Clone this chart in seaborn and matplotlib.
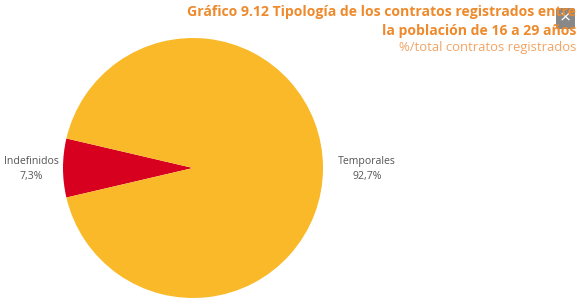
import matplotlib
matplotlib.use("Agg")
import matplotlib.pyplot as plt
import seaborn as sns
from matplotlib.patches import FancyBboxPatch

categories = ["Indefinidos", "Temporales"]
values = [7.3, 92.7]
value_labels = ["7,3%", "92,7%"]
colors = ["#D7001E", "#F9B928"]

sns.set_theme(style="white")
plt.rcParams["font.family"] = ["Open Sans", "DejaVu Sans"]

fig = plt.figure(figsize=(5.79, 2.99), dpi=100)
fig.patch.set_facecolor("white")

cx, cy, r = 193, 168, 130
W, H = 579, 299
ax = fig.add_axes([(cx - r) / W, (H - cy - r) / H, 2 * r / W, 2 * r / H])
start = 180 - values[0] / 100 * 360 / 2
ax.pie(values, colors=colors, startangle=start, counterclock=True,
       wedgeprops=dict(linewidth=0), radius=1)
ax.set_xlim(-1, 1)
ax.set_ylim(-1, 1)
ax.axis("off")

grey = "#555555"
fig.text(31 / W, 1 - 169 / H, categories[0] + "\n" + value_labels[0], ha="center", va="center",
         fontsize=7.6, color=grey, linespacing=1.45)
fig.text(367 / W, 1 - 169 / H, categories[1] + "\n" + value_labels[1], ha="center", va="center",
         fontsize=7.6, color=grey, linespacing=1.45)

orange = "#EE8A2C"
fig.text(576 / W, 1 - 12 / H, "Gráfico 9.12 Tipología de los contratos registrados entre",
         ha="right", va="center", fontsize=10.1, fontweight="bold", color=orange)
fig.text(576 / W, 1 - 31 / H, "la población de 16 a 29 años",
         ha="right", va="center", fontsize=10.1, fontweight="bold", color=orange)
fig.text(576 / W, 1 - 48 / H, "%/total contratos registrados",
         ha="right", va="center", fontsize=9.4, color="#F2A465")

# close button overlay
bx = fig.add_axes([556 / W, 1 - 29 / H, 19 / W, 21 / H])
bx.add_patch(FancyBboxPatch((0.0, 0.0), 1.0, 1.0, boxstyle="round,pad=0,rounding_size=0.1",
                            facecolor="#6A6A6A", edgecolor="none", alpha=0.8))
bx.text(0.5, 0.5, "×", ha="center", va="center", color="white", fontsize=14)
bx.set_xlim(0, 1)
bx.set_ylim(0, 1)
bx.axis("off")

fig.savefig("out.png", dpi=100)
